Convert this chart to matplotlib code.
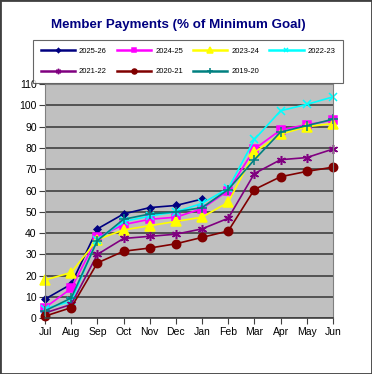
import matplotlib.pyplot as plt
from matplotlib.patches import Rectangle

months = ["Jul", "Aug", "Sep", "Oct", "Nov", "Dec", "Jan", "Feb", "Mar", "Apr", "May", "Jun"]

fy2025_26 = [9, 16, 42, 49, 52, 53, 56]
fy2024_25 = [5, 14, 38, 44, 46.5, 47.5, 51.5, 60, 79.5, 88.5, 91, 93]
fy2023_24 = [18, 21.5, 37, 41.5, 43.5, 45.5, 47.5, 54.5, 78, 86.5, 90, 91.5]
fy2022_23 = [4.5, 8, 37, 45.5, 48, 50, 54, 61, 84, 97.5, 100.5, 104]
fy2021_22 = [2.5, 6.5, 30, 37.5, 38.5, 39.5, 42, 47, 68, 74.5, 75.5, 79.5]
fy2020_21 = [1, 5, 26, 31.5, 33, 35, 38, 41, 60.5, 66.5, 69, 71]
fy2019_20 = [3.5, 9.5, 36.5, 46.5, 49, 50, 52, 60.5, 74.5, 87.5, 90.5, 93.5]

series = [
    ("2025-26", fy2025_26, "#000080", "D", 3.5),
    ("2024-25", fy2024_25, "#FF00FF", "s", 5.5),
    ("2023-24", fy2023_24, "#FFFF00", "^", 6.5),
    ("2022-23", fy2022_23, "#00FFFF", "x", 5.5),
    ("2021-22", fy2021_22, "#800080", (6, 2, 0), 6.5),
    ("2020-21", fy2020_21, "#800000", "o", 6),
    ("2019-20", fy2019_20, "#008080", "+", 6.5),
]

plt.rcParams["font.family"] = ["Liberation Sans", "DejaVu Sans"]

fig = plt.figure(figsize=(3.72, 3.74), dpi=100)
ax = fig.add_axes([0.121, 0.149, 0.774, 0.626])
ax.set_facecolor("#C0C0C0")

x = list(range(len(months)))
handles = []
for label, vals, color, marker, ms in series:
    h, = ax.plot(x[:len(vals)], vals, color=color, marker=marker, markersize=ms,
                 linewidth=1.2, markeredgewidth=1.1, label=label, clip_on=False)
    handles.append(h)

ax.set_xlim(0, 11)
ax.set_ylim(0, 110)
ax.set_xticks(x)
ax.set_xticklabels(months)
ax.set_yticks(range(0, 111, 10))
ax.tick_params(axis="both", labelsize=7.5, length=4, color="#404040", pad=2)
ax.yaxis.grid(True, color="#404040", linewidth=1.2)
ax.set_axisbelow(True)
for side in ["left", "right", "top"]:
    ax.spines[side].set_color("#808080")
ax.spines["bottom"].set_color("#404040")
ax.spines["bottom"].set_linewidth(1.2)

fig.text(0.478, 0.933, "Member Payments (% of Minimum Goal)", ha="center", va="center",
         fontsize=9.6, fontweight="bold", color="#000080")

# row-wise legend order: 4 entries on top row, 3 below
order = [0, 4, 1, 5, 2, 6, 3]
leg = fig.legend(handles=[handles[i] for i in order], loc="upper left",
                 bbox_to_anchor=(0.089, 0.778, 0.833, 0.115),
                 mode="expand", ncol=4, fontsize=5.5, frameon=True, fancybox=False,
                 handlelength=4.5, markerscale=0.6, borderaxespad=0, labelspacing=1.7,
                 handletextpad=0.5, borderpad=1.0)
leg.get_frame().set_edgecolor("#404040")
leg.get_frame().set_linewidth(0.8)
for line in leg.get_lines():
    line.set_linewidth(1.8)

fig.patches.append(Rectangle((0, 0), 1, 1, transform=fig.transFigure, fill=False,
                             edgecolor="#404040", linewidth=2))

fig.savefig("out.png", dpi=100)
